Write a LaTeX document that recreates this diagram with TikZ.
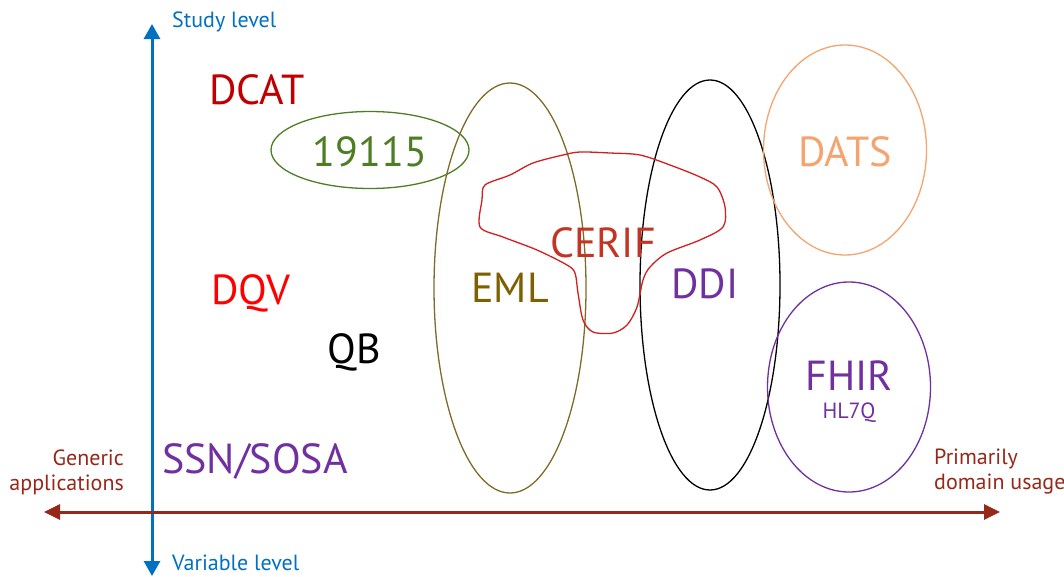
\documentclass[tikz,border=0pt]{standalone}
\usepackage{fontspec}
\setmainfont{PT Sans}
\usetikzlibrary{arrows.meta,shapes.geometric}
\definecolor{axblue}{RGB}{0,112,192}
\definecolor{axred}{RGB}{150,40,25}
\definecolor{dcatred}{RGB}{192,0,0}
\definecolor{isogreen}{RGB}{78,126,36}
\definecolor{emlolive}{RGB}{127,96,0}
\definecolor{emlline}{RGB}{127,106,40}
\definecolor{ddipurple}{RGB}{112,48,160}
\definecolor{datsorange}{RGB}{244,164,110}
\definecolor{cerifred}{RGB}{196,52,36}
\definecolor{cerifline}{RGB}{212,30,30}
\tikzset{
  big/.style={font=\fontsize{42}{46}\selectfont, inner sep=0pt},
  small/.style={font=\fontsize{22}{25}\selectfont, inner sep=0pt},
  blob/.style={draw, ellipse, line width=1.3pt, inner sep=0pt},
  axis/.style={line width=3pt},
}
\begin{document}
\begin{tikzpicture}[x=1pt,y=-1pt]
\useasboundingbox (0,0) rectangle (1064,576);
% axes
\coordinate (vtop) at (152,24);
\coordinate (vbot) at (152,576);
\coordinate (hleft) at (44,512);
\coordinate (hright) at (1000,512);
\draw[axis, axblue, {Triangle[length=15pt,width=16pt]}-{Triangle[length=15pt,width=16pt]}] (vbot) -- (vtop);
\draw[axis, axred, {Triangle[length=16pt,width=15pt]}-{Triangle[length=16pt,width=15pt]}] (hleft) -- (hright);
\node[small, axblue, anchor=west] (study) at (172,22) {Study level};
\node[small, axblue, anchor=west] (var) at (172,563) {Variable level};
\node[small, axred, anchor=east, align=right] (gen) at (124,472) {Generic\\applications};
\node[small, axred, anchor=west, align=left] (prim) at (934,472) {Primarily\\domain usage};
% ellipses
\node[blob, isogreen, minimum width=198pt, minimum height=77pt] (iso) at (370,150) {};
\node[blob, emlline, minimum width=152pt, minimum height=410pt] (emlE) at (510,288) {};
\node[blob, black, minimum width=140pt, minimum height=410pt] (ddiE) at (710,285) {};
\node[blob, datsorange, minimum width=163pt, minimum height=210pt] (datsE) at (845,150) {};
\node[blob, ddipurple, minimum width=163pt, minimum height=210pt] (fhirE) at (849,387) {};
% CERIF shape
\draw[cerifline, line width=1.3pt] plot[smooth cycle, tension=0.5] coordinates {
 (485,185) (482,200) (480,227) (503,237) (537,250) (567,265) (575,273)
 (578,293) (583,320) (593,332) (613,333) (627,325) (637,307) (643,280)
 (650,267) (667,253) (700,240) (723,227) (725,207) (717,187) (700,177)
 (670,165) (640,155) (610,153) (580,152) (563,155) (533,163) (510,175)};
% labels
\node[big, dcatred] (dcat) at (257,90) {DCAT};
\node[big, isogreen] (isot) at (370,152) {19115};
\node[big, emlolive] (eml) at (510,288) {EML};
\node[big, ddipurple] (ddi) at (705,284) {DDI};
\node[big, datsorange] (dats) at (845,152) {DATS};
\node[big, cerifred] (cerif) at (603,243) {CERIF};
\node[big, red] (dqv) at (251,293) {DQV};
\node[big, black] (qb) at (354,352) {QB};
\node[big, ddipurple] (ssn) at (255,461) {SSN/SOSA};
\node[big, ddipurple] (fhir) at (849,376) {FHIR};
\node[small, ddipurple] (hl7) at (849,413) {HL7Q};
\end{tikzpicture}
\end{document}
